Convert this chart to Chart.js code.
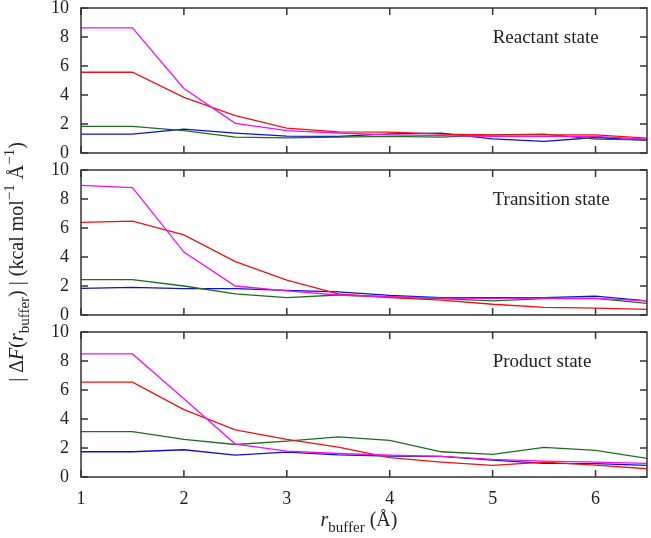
<!DOCTYPE html>
<html>
<head>
<meta charset="utf-8">
<script src="https://cdn.jsdelivr.net/npm/chart.js@4/dist/chart.umd.min.js"></script>
<style>
  html, body { margin: 0; padding: 0; background: #fff; }
  #wrap { position: relative; width: 651px; height: 538px; }
  #wrap canvas { position: absolute; left: 0; top: 0; }
</style>
</head>
<body>
<div id="wrap">
  <canvas id="reactantChart" width="651" height="538"></canvas>
  <canvas id="transitionChart" width="651" height="538"></canvas>
  <canvas id="productChart" width="651" height="538"></canvas>
</div>
<script>
// x positions and tick labels
const rBuffer = [1, 1.5, 2, 2.5, 3, 3.5, 4, 4.5, 5, 5.5, 6, 6.5];
const xTicks = [1, 2, 3, 4, 5, 6];
const yTicks = [0, 2, 4, 6, 8, 10];
const stateNames = ['Reactant state', 'Transition state', 'Product state'];

// Reactant state
const reactantMagenta = [8.63, 8.63, 4.45, 2.05, 1.55, 1.38, 1.25, 1.2, 1.15, 1.15, 1.15, 0.96];
const reactantRed = [5.57, 5.57, 3.84, 2.58, 1.71, 1.45, 1.44, 1.3, 1.25, 1.25, 1.25, 1.03];
const reactantGreen = [1.83, 1.83, 1.55, 1.1, 1.05, 1.1, 1.14, 1.1, 1.25, 1.3, 0.96, 0.91];
const reactantBlue = [1.3, 1.3, 1.64, 1.37, 1.16, 1.15, 1.32, 1.37, 0.98, 0.8, 1.07, 0.87];

// Transition state
const transitionMagenta = [8.94, 8.78, 4.34, 2.0, 1.66, 1.38, 1.26, 1.17, 1.15, 1.17, 1.15, 0.97];
const transitionRed = [6.39, 6.48, 5.52, 3.68, 2.41, 1.45, 1.2, 1.03, 0.74, 0.53, 0.48, 0.39];
const transitionGreen = [2.44, 2.44, 2.0, 1.45, 1.2, 1.38, 1.24, 1.13, 0.97, 1.13, 1.15, 0.8];
const transitionBlue = [1.84, 1.9, 1.82, 1.82, 1.7, 1.6, 1.35, 1.2, 1.2, 1.2, 1.3, 0.97];

// Product state
const productMagenta = [8.49, 8.49, 5.4, 2.27, 1.78, 1.62, 1.51, 1.42, 1.21, 1.1, 1.03, 0.94];
const productRed = [6.54, 6.54, 4.65, 3.25, 2.59, 2.06, 1.33, 1.03, 0.8, 1.03, 0.82, 0.57];
const productGreen = [3.13, 3.13, 2.59, 2.24, 2.47, 2.77, 2.52, 1.74, 1.56, 2.04, 1.83, 1.28];
const productBlue = [1.74, 1.74, 1.88, 1.51, 1.72, 1.53, 1.44, 1.42, 1.17, 0.94, 0.92, 0.8];

const SERIF = '"Liberation Serif", "Times New Roman", serif';
Chart.defaults.font.family = SERIF;
Chart.defaults.font.size = 18;
Chart.defaults.color = '#222';

// draw a run of text pieces with italic / sub / sup parts, centred on (0,0)
function drawRich(ctx, segs) {
    const fontOf = s => {
        if (s[1] === 'i') return 'italic 20px ' + SERIF;
        if (s[1] === 'sub' || s[1] === 'sup') return '15px ' + SERIF;
        return '20px ' + SERIF;
    };
    let total = 0;
    segs.forEach(s => { ctx.font = fontOf(s); total += ctx.measureText(s[0]).width; });
    let x = -total / 2;
    ctx.textAlign = 'left';
    ctx.textBaseline = 'alphabetic';
    segs.forEach(s => {
        ctx.font = fontOf(s);
        let dy = 0;
        if (s[1] === 'sub') dy = 6;
        if (s[1] === 'sup') dy = -9;
        ctx.fillText(s[0], x, dy);
        x += ctx.measureText(s[0]).width;
    });
}

const framePlugin = {
    id: 'frame',
    afterDraw(chart, args, opts) {
        const ctx = chart.ctx;
        const a = chart.chartArea;
        const xs = chart.scales.x, ys = chart.scales.y;
        ctx.save();
        ctx.strokeStyle = '#333';
        ctx.lineWidth = 1.5;
        ctx.strokeRect(a.left, a.top, a.right - a.left, a.bottom - a.top);
        // inward ticks on all four sides
        const tl = 7;
        ctx.beginPath();
        xTicks.forEach(v => {
            const px = xs.getPixelForValue(v);
            ctx.moveTo(px, a.bottom); ctx.lineTo(px, a.bottom - tl);
            ctx.moveTo(px, a.top); ctx.lineTo(px, a.top + tl);
        });
        yTicks.forEach(v => {
            const py = ys.getPixelForValue(v);
            ctx.moveTo(a.left, py); ctx.lineTo(a.left + tl, py);
            ctx.moveTo(a.right, py); ctx.lineTo(a.right - tl, py);
        });
        ctx.stroke();

        // state label
        ctx.fillStyle = '#222';
        ctx.font = '19px ' + SERIF;
        ctx.textAlign = 'left';
        ctx.textBaseline = 'alphabetic';
        ctx.fillText(opts.label, xs.getPixelForValue(5), ys.getPixelForValue(7.6));

        if (opts.yTitle) {
            ctx.save();
            ctx.translate(23, 262);
            ctx.rotate(-Math.PI / 2);
            drawRich(ctx, [['| \u0394', 'n'], ['F', 'i'], ['(', 'n'], ['r', 'i'], ['buffer', 'sub'],
                [') | (kcal mol', 'n'], ['\u22121', 'sup'], [' \u00c5', 'n'], ['\u22121', 'sup'], [')', 'n']]);
            ctx.restore();
        }
        if (opts.xTitle) {
            ctx.save();
            ctx.translate((a.left + a.right) / 2 - 5, 526);
            drawRich(ctx, [['r', 'i'], ['buffer', 'sub'], [' (\u00c5)', 'n']]);
            ctx.restore();
        }
        ctx.restore();
    }
};

function makeChart(id, idx, top, bottom, series, showX) {
    const colors = ['#ee11ee', '#ee1111', '#1e6e1e', '#1010cc'];
    const xHeight = showX ? 538 - bottom : 0;
    return new Chart(document.getElementById(id), {
        type: 'line',
        data: {
            datasets: series.map((vals, k) => ({
                data: rBuffer.map((x, j) => ({ x: x, y: vals[j] })),
                borderColor: colors[k],
                borderWidth: 1.3,
                pointRadius: 0,
                tension: 0,
                fill: false
            }))
        },
        options: {
            responsive: false,
            animation: false,
            events: [],
            layout: { padding: { left: 0, right: 4, top: top, bottom: 538 - bottom - xHeight } },
            plugins: {
                legend: { display: false },
                tooltip: { enabled: false },
                frame: { label: stateNames[idx], yTitle: idx === 1, xTitle: showX }
            },
            scales: {
                x: {
                    type: 'linear',
                    min: 1,
                    max: 6.5,
                    display: showX,
                    afterBuildTicks: s => { s.ticks = xTicks.map(v => ({ value: v })); },
                    afterFit: s => { s.height = xHeight; s.paddingLeft = 0; s.paddingRight = 0; },
                    grid: { display: false, drawTicks: false },
                    border: { display: false },
                    ticks: { padding: 11, maxRotation: 0, color: '#222' }
                },
                y: {
                    min: 0,
                    max: 10,
                    afterBuildTicks: s => { s.ticks = yTicks.map(v => ({ value: v })); },
                    afterFit: s => { s.width = 81; s.paddingTop = 0; s.paddingBottom = 0; },
                    grid: { display: false, drawTicks: false },
                    border: { display: false },
                    ticks: { padding: 12, color: '#222' }
                }
            }
        },
        plugins: [framePlugin]
    });
}

makeChart('reactantChart', 0, 8, 153,
    [reactantMagenta, reactantRed, reactantGreen, reactantBlue], false);
makeChart('transitionChart', 1, 170, 315,
    [transitionMagenta, transitionRed, transitionGreen, transitionBlue], false);
makeChart('productChart', 2, 332, 477,
    [productMagenta, productRed, productGreen, productBlue], true);
</script>
</body>
</html>
